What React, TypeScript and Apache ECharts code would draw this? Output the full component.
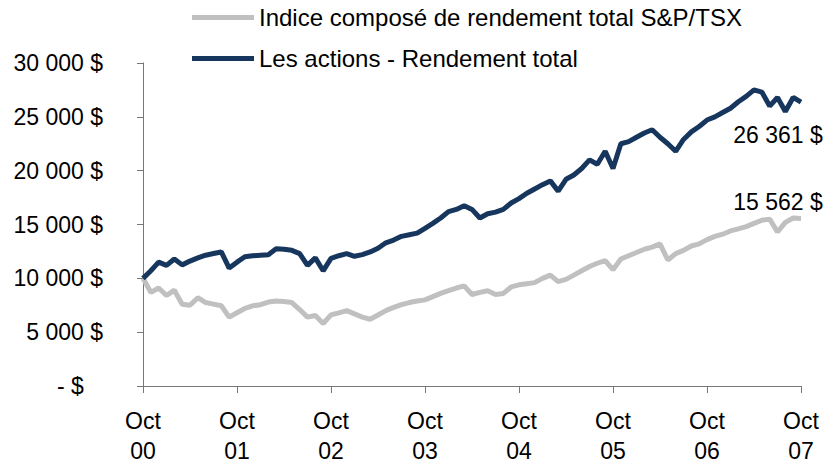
import React, { useEffect, useRef } from "react";
import * as echarts from "echarts";

const xTickLabels = ["00", "01", "02", "03", "04", "05", "06", "07"];
const seriesNames = [
  "Indice composé de rendement total S&P/TSX",
  "Les actions - Rendement total",
];
// monthly values, Oct 2000 (month 0) to Oct 2007 (month 84)
const tsxValues = [
  10000, 8700, 9100, 8400, 8900, 7600, 7500, 8200, 7750, 7600, 7450, 6400,
  6800, 7200, 7450, 7550, 7800, 7900, 7850, 7750, 7100, 6400, 6550, 5800,
  6600, 6800, 7000, 6700, 6400, 6200, 6600, 7000, 7300, 7550, 7750, 7900,
  8000, 8300, 8600, 8850, 9100, 9300, 8500, 8700, 8850, 8500, 8600, 9200,
  9400, 9500, 9600, 10000, 10300, 9700, 9900, 10300, 10700, 11100, 11400, 11650,
  10800, 11800, 12100, 12400, 12700, 12900, 13200, 11700, 12300, 12600, 13000, 13200,
  13600, 13900, 14100, 14400, 14600, 14800, 15100, 15400, 15500, 14300, 15200, 15600,
  15562,
];
const stockValues = [
  10000, 10700, 11500, 11200, 11800, 11250, 11600, 11900, 12150, 12300, 12450, 10950,
  11500, 12000, 12100, 12150, 12200, 12750, 12700, 12600, 12300, 11200, 11900, 10700,
  11850, 12100, 12300, 12050, 12200, 12450, 12800, 13300, 13550, 13900, 14050, 14200,
  14650, 15100, 15600, 16200, 16400, 16750, 16400, 15600, 16000, 16150, 16400, 17000,
  17400, 17900, 18300, 18700, 19050, 18100, 19200, 19600, 20200, 21000, 20600, 21800,
  20200, 22500, 22700, 23100, 23500, 23800, 23100, 22500, 21800, 22900, 23600, 24100,
  24700, 25000, 25400, 25800, 26400, 26900, 27500, 27300, 26000, 26800, 25500, 26800,
  26361,
];
const colors = ["#c0c0c0", "#17365d"];

const FONT = "'Liberation Sans', Arial, sans-serif";

function fmt(v: number): string {
  if (v === 0) return "- $\u00a0\u00a0\u00a0";
  return String(v).replace(/\B(?=(\d{3})+(?!\d))/g, " ") + " $";
}

function buildData(values: number[], labelPos: "top" | "bottom", offset: number[]) {
  return values.map((v, i) => {
    if (i === values.length - 1) {
      return {
        value: [i, v],
        label: {
          show: true,
          position: labelPos,
          offset,
          formatter: () => fmt(v),
          color: "#000",
          fontSize: 23,
          fontFamily: FONT,
        },
      };
    }
    return [i, v];
  });
}

export default function App() {
  const ref = useRef<HTMLDivElement>(null);
  useEffect(() => {
    document.body.style.margin = "0";
    const chart = echarts.init(ref.current!, null, { renderer: "svg" });
    chart.setOption({
      animation: false,
      backgroundColor: "#fff",
      textStyle: { fontFamily: FONT },
      legend: {
        orient: "vertical",
        left: 187,
        top: 0,
        icon: "rect",
        itemWidth: 62,
        itemHeight: 5,
        itemGap: 16,
        textStyle: {
          fontSize: 24,
          lineHeight: 25,
          color: "#000",
          fontFamily: FONT,
        },
        data: seriesNames,
      },
      grid: { left: 143, right: 26, top: 63, bottom: 77, containLabel: false },
      xAxis: {
        type: "value",
        min: 0,
        max: 84,
        interval: 12,
        splitLine: { show: false },
        axisLine: { lineStyle: { color: "#777", width: 1 } },
        axisTick: { show: true, length: 7, lineStyle: { color: "#777" } },
        axisLabel: {
          margin: 20,
          fontSize: 23,
          lineHeight: 30,
          color: "#000",
          fontFamily: FONT,
          formatter: (v: number) => "Oct\n" + xTickLabels[Math.round(v / 12)],
        },
      },
      yAxis: {
        type: "value",
        min: 0,
        max: 30000,
        interval: 5000,
        splitLine: { show: false },
        axisLine: { show: true, lineStyle: { color: "#777", width: 1 } },
        axisTick: { show: true, length: 6, lineStyle: { color: "#777" } },
        axisLabel: {
          margin: 40,
          fontSize: 23,
          color: "#000",
          fontFamily: FONT,
          formatter: (v: number) => fmt(v),
        },
      },
      series: [
        {
          name: seriesNames[0],
          type: "line",
          showSymbol: true,
          symbol: "circle",
          symbolSize: 0,
          color: colors[0],
          lineStyle: { color: colors[0], width: 5 },
          data: buildData(tsxValues, "top", [-23, 0]),
          z: 2,
        },
        {
          name: seriesNames[1],
          type: "line",
          showSymbol: true,
          symbol: "circle",
          symbolSize: 0,
          color: colors[1],
          lineStyle: { color: colors[1], width: 5 },
          data: buildData(stockValues, "bottom", [-23, 16]),
          z: 3,
        },
      ],
    });
    return () => chart.dispose();
  }, []);
  return <div ref={ref} style={{ width: 827, height: 466 }} />;
}
